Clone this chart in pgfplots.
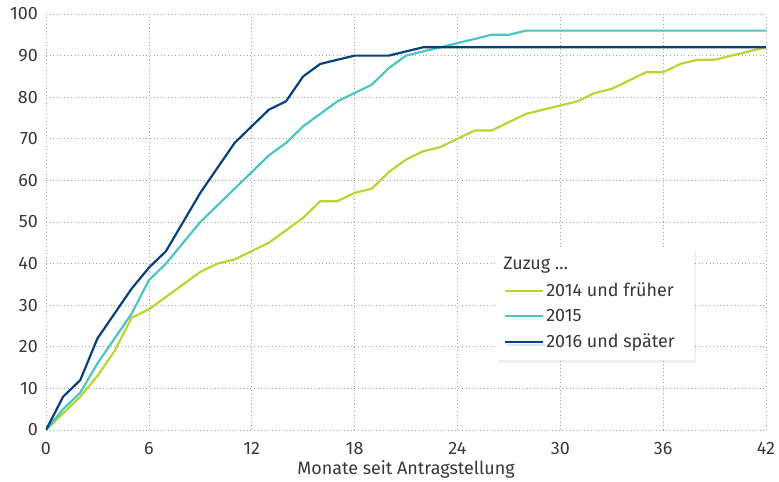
\documentclass[border=0pt]{standalone}
\usepackage{fontspec}
\setmainfont{Fira Sans}
\usepackage{pgfplots}
\pgfplotsset{compat=1.18}
\usetikzlibrary{shadows}

\definecolor{cgreen}{HTML}{BBD432}
\definecolor{ccyan}{HTML}{4CC4C1}
\definecolor{cblue}{HTML}{06417F}
\definecolor{cgrid}{HTML}{A0A0A0}
\definecolor{ctext}{HTML}{383838}

\newcommand{\chartfont}{\fontsize{18}{20}\selectfont}

\begin{document}
\chartfont
\begin{tikzpicture}
\begin{axis}[
    scale only axis,
    width=720bp, height=416bp,
    xmin=0, xmax=42, ymin=0, ymax=100,
    xtick={0,6,...,42}, ytick={0,10,...,100},
    axis line style={draw=none},
    major tick length=0pt,
    grid=major,
    grid style={cgrid, line width=0.7pt, dash pattern=on 1pt off 2.6pt},
    tick label style={ctext, font=\chartfont},
    xticklabel style={yshift=-6pt},
    yticklabel style={xshift=-2pt},
    /pgf/number format/assume math mode=true,
    xlabel={Monate seit Antragstellung},
    xlabel style={ctext, font=\chartfont, yshift=6pt},
    every axis plot/.append style={line width=2.2pt, line join=round},
    legend cell align=left,
    legend style={at={(axis cs:26.25,43.9)}, anchor=north west,
        draw=none, fill=white, text=ctext,
        font=\chartfont,
        inner xsep=8pt, inner ysep=8pt, row sep=6pt,
        drop shadow={opacity=0.12, shadow xshift=2pt, shadow yshift=-3pt}},
    legend image code/.code={\draw[#1, line width=2.2pt] (0bp,0bp) -- (38bp,0bp);},
]
\addlegendimage{empty legend}
\addlegendentry{\hspace{-43bp}Zuzug …}

\addplot[cgreen] coordinates {
(0,0) (1,4) (2,8) (3,13) (4,19) (5,27) (6,29) (7,32) (8,35) (9,38)
(10,40) (11,41) (12,43) (13,45) (14,48) (15,51) (16,55) (17,55) (18,57) (19,58)
(20,62) (21,65) (22,67) (23,68) (24,70) (25,72) (26,72) (27,74) (28,76) (29,77)
(30,78) (31,79) (32,81) (33,82) (34,84) (35,86) (36,86) (37,88) (38,89) (39,89)
(40,90) (41,91) (42,92)};
\addlegendentry{2014 und früher\kern10bp}

\addplot[ccyan] coordinates {
(0,0) (1,5) (2,9) (3,16) (4,22) (5,28) (6,36) (7,40) (8,45) (9,50)
(10,54) (11,58) (12,62) (13,66) (14,69) (15,73) (16,76) (17,79) (18,81) (19,83)
(20,87) (21,90) (22,91) (23,92) (24,93) (25,94) (26,95) (27,95) (28,96) (29,96)
(30,96) (31,96) (32,96) (33,96) (34,96) (35,96) (36,96) (37,96) (38,96) (39,96)
(40,96) (41,96) (42,96)};
\addlegendentry{2015}

\addplot[cblue] coordinates {
(0,0) (1,8) (2,12) (3,22) (4,28) (5,34) (6,39) (7,43) (8,50) (9,57)
(10,63) (11,69) (12,73) (13,77) (14,79) (15,85) (16,88) (17,89) (18,90) (19,90)
(20,90) (21,91) (22,92) (23,92) (24,92) (25,92) (26,92) (27,92) (28,92) (29,92)
(30,92) (31,92) (32,92) (33,92) (34,92) (35,92) (36,92) (37,92) (38,92) (39,92)
(40,92) (41,92) (42,92)};
\addlegendentry{2016 und später}
\end{axis}
\pgfresetboundingbox
\path[use as bounding box] ([xshift=-46bp,yshift=-52bp]current axis.south west)
    rectangle ([xshift=13bp,yshift=14bp]current axis.north east);
\end{tikzpicture}
\end{document}
